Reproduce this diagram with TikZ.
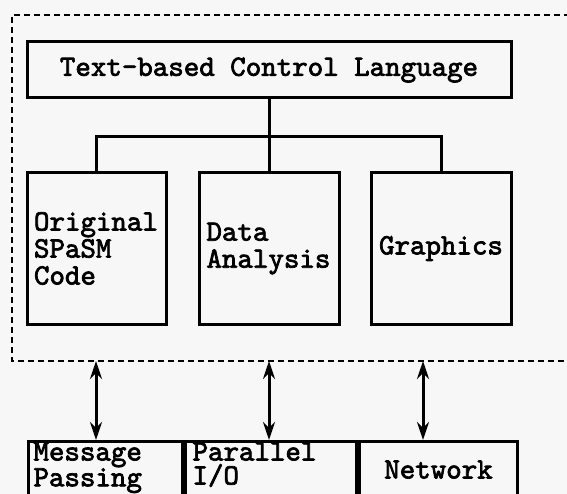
\documentclass[tikz,border=0pt]{standalone}
\usepackage{fontspec}
\newfontfamily\diagfont{lmmono10-regular.otf}[FakeBold=2.4]
\usetikzlibrary{arrows.meta}
\definecolor{paper}{HTML}{F7F7F7}

\begin{document}
\begin{tikzpicture}[x=1pt, y=-1pt, line width=3pt,
    box/.style={draw, rectangle, inner sep=0pt,
        font=\diagfont\fontsize{29.5}{27}\selectfont},
    iobox/.style={box, anchor=north west, text height=19pt, text depth=41pt,
        font=\diagfont\fontsize{29.5}{24}\selectfont},
    outer/.style={line width=1.2pt, dash pattern=on 6pt off 4pt},
    link/.style={{Stealth[length=18pt,width=12pt]}-{Stealth[length=18pt,width=12pt]}}]
    \useasboundingbox (0,0) rectangle (567,494);
    \fill[paper] (0,0) rectangle (567,494);
    % Control layer
    \draw[outer] (600,15) -- (12,15) -- (12,361) -- (600,361);
    \node[box, minimum width=484pt, minimum height=56pt] (ctl) at (269,70) {Text-based Control Language};
    \node[box, minimum width=139pt, minimum height=151pt, text width=125pt, align=left] (orig) at (96.5,248.5) {Original\\SPaSM\\Code};
    \node[box, minimum width=140pt, minimum height=151pt, text width=125pt, align=left] (ana) at (269,248.5) {Data\\Analysis};
    \node[box, minimum width=140pt, minimum height=151pt] (gfx) at (441,248.5) {Graphics};
    \draw (ctl.south) -- ++(0,37) coordinate (fork);
    \draw (orig.north) |- (fork) -| (gfx.north);
    \draw (fork) -- (ana.north);
    % Lower layer
    \node[iobox, minimum width=154pt, text width=144pt, align=left] (msg) at (27,440) {Message\\Passing};
    \node[iobox, minimum width=171pt, text width=157pt, align=left] (pio) at (msg.north east) {Parallel\\I/O};
    \node[iobox, minimum width=158pt, text height=37pt, text depth=23pt] (net) at (pio.north east) {Network};
    \coordinate (a1) at (96,361);
    \coordinate (a2) at (269,361);
    \coordinate (a3) at (423,361);
    \draw[link] (a1) -- (a1 |- msg.north);
    \draw[link] (a2) -- (a2 |- pio.north);
    \draw[link] (a3) -- (a3 |- net.north);
\end{tikzpicture}
\end{document}
